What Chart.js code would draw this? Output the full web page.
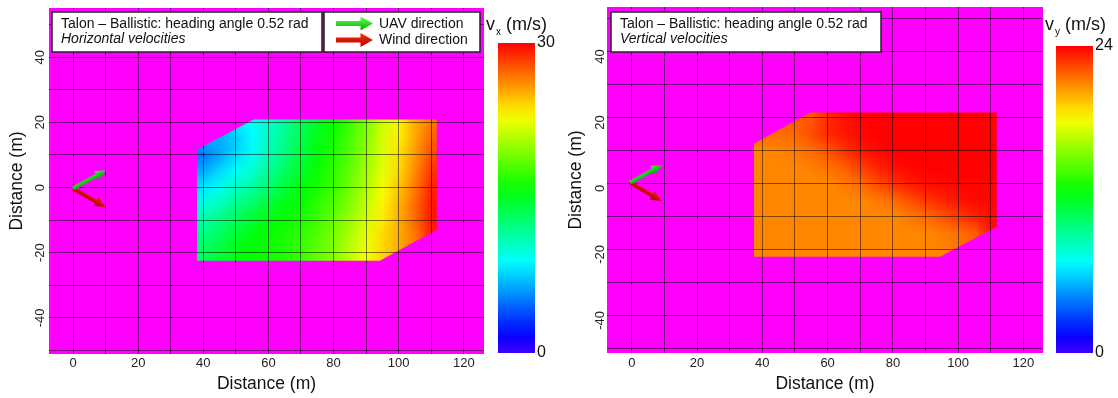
<!DOCTYPE html>
<html>
<head>
<meta charset="utf-8">
<script src="https://cdn.jsdelivr.net/npm/chart.js@4.4.1/dist/chart.umd.min.js"></script>
<style>
  body { margin: 0; background: #fff; width: 1118px; height: 398px; position: relative; overflow: hidden; }
  .panel { position: absolute; top: 0; height: 398px; }
</style>
</head>
<body>
<div class="panel" style="left:0;width:485px"><canvas id="vxChart"></canvas></div>
<div class="panel" style="left:485px;width:74px"><canvas id="vxBar"></canvas></div>
<div class="panel" style="left:559px;width:486px"><canvas id="vyChart"></canvas></div>
<div class="panel" style="left:1045px;width:73px"><canvas id="vyBar"></canvas></div>
<script>
// sample grid (m): columns along x, rows along y from top to bottom
const gridX = [40, 45, 50, 55, 60, 65, 70, 75, 80, 85, 90, 95, 100, 105, 110];
const gridY = [20, 15, 10, 5, 0, -5, -10, -15, -20];

// horizontal velocity vx (m/s), null = outside the region
const vxValues = [
  [null, null, null, 8.8, 10.2, 11.8, 13.3, 14.9, 16.1, 17.6, 19.4, 21.5, 23.2, 25.3, 26.7],
  [null, 6.6, 7.4, 8.8, 10.5, 12.1, 13.8, 15.3, 16.5, 18.0, 19.6, 21.8, 23.5, 25.5, 27.4],
  [5.1, 6.5, 7.9, 9.3, 10.9, 12.6, 14.2, 15.6, 16.8, 18.2, 20.0, 22.0, 23.9, 25.9, 27.9],
  [6.5, 7.9, 9.1, 10.2, 11.8, 13.3, 14.9, 16.1, 17.3, 18.7, 20.4, 22.2, 24.1, 26.2, 28.6],
  [8.2, 9.3, 10.5, 11.6, 12.9, 14.4, 15.6, 16.5, 17.6, 19.1, 20.8, 22.7, 24.6, 26.7, 29.1],
  [9.8, 10.9, 12.1, 13.2, 14.4, 15.4, 16.1, 17.1, 18.2, 19.6, 21.3, 23.2, 25.1, 27.1, 29.4],
  [11.2, 12.4, 13.5, 14.7, 15.6, 16.1, 16.7, 17.6, 18.8, 20.2, 21.8, 23.5, 25.3, 27.2, 29.3],
  [12.4, 13.5, 14.7, 15.6, 16.1, 16.6, 17.3, 18.2, 19.4, 20.8, 22.4, 23.9, 25.3, 26.7, null],
  [13.3, 14.5, 15.4, 15.9, 16.3, 16.8, 17.5, 18.5, 19.6, 21.2, 22.7, 24.1, null, null, null]
];

// vertical velocity vy (m/s)
const vyValues = [
  [null, null, null, 22.1, 23.1, 23.7, 23.9, 24.0, 24.0, 24.0, 24.0, 24.0, 24.0, 24.0, 23.9],
  [null, 21.6, 21.7, 22.3, 23.1, 23.5, 23.8, 24.0, 24.0, 24.0, 24.0, 24.0, 24.0, 24.0, 23.9],
  [21.0, 21.1, 21.3, 21.6, 22.1, 22.9, 23.4, 23.8, 24.0, 24.0, 24.0, 24.0, 24.0, 24.0, 24.0],
  [21.0, 21.0, 21.0, 21.2, 21.5, 21.9, 22.6, 23.2, 23.7, 23.9, 24.0, 24.0, 24.0, 24.0, 24.0],
  [21.0, 21.0, 21.0, 21.0, 21.0, 21.3, 21.6, 22.3, 22.9, 23.4, 23.7, 23.8, 23.9, 23.9, 23.9],
  [21.0, 21.0, 21.0, 21.0, 21.0, 21.0, 21.0, 21.3, 21.6, 22.2, 22.8, 23.2, 23.6, 23.8, 23.9],
  [21.0, 21.0, 21.0, 21.0, 21.0, 21.0, 21.0, 21.0, 21.0, 21.3, 21.6, 22.1, 22.7, 23.2, 23.7],
  [21.0, 21.0, 21.0, 21.0, 21.0, 21.0, 21.0, 21.0, 21.0, 21.0, 21.0, 21.2, 21.5, 21.9, null],
  [21.0, 21.0, 21.0, 21.0, 21.0, 21.0, 21.0, 21.0, 21.0, 21.0, 21.0, 21.1, null, null, null]
];

// region outlines (m)
const vxOutline = [[38.1, 11.7], [55.5, 20.9], [111.7, 20.9], [111.7, -13.0], [94.2, -22.5], [38.1, -22.5]];
const vyOutline = [[37.1, 11.9], [54.7, 21.5], [111.8, 21.5], [111.8, -13.1], [94.5, -22.2], [37.1, -22.2]];

const vxRange = [0, 30];
const vyRange = [0, 24];

const xTickLabels = [0, 20, 40, 60, 80, 100, 120];
const yTickLabels = [-40, -20, 0, 20, 40];

// direction arrows (m)
const arrowOriginVx = [0, -0.3];
const uavTipVx = [10.2, 5.3];
const windTipVx = [10.0, -6.0];
const arrowOriginVy = [-0.5, 0.3];
const uavTipVy = [9.4, 5.6];
const windTipVy = [9.1, -5.3];

const panelTitle = 'Talon – Ballistic: heading angle 0.52 rad';

const FONT = '"Liberation Sans", Arial, sans-serif';
const GRID = 'rgba(0, 0, 0, 0.5)';
Chart.defaults.font.family = FONT;

function hueColor(v, vmax) {
    const t = Math.min(Math.max(v / vmax, 0), 1);
    return `hsl(${(1 - t) * 255}, 100%, 50%)`;
}

function nearestValue(values, i, j) {
    let best = null, bestD = Infinity;
    values.forEach((row, jj) => row.forEach((v, ii) => {
        if (v === null) return;
        const d = (ii - i) * (ii - i) + (jj - j) * (jj - j);
        if (d < bestD) { bestD = d; best = v; }
    }));
    return best;
}

function buildHeatImage(values, vmax) {
    const c = document.createElement('canvas');
    c.width = values[0].length;
    c.height = values.length;
    const g = c.getContext('2d');
    values.forEach((row, j) => row.forEach((v, i) => {
        const val = v !== null ? v : nearestValue(values, i, j);
        g.fillStyle = hueColor(val, vmax);
        g.fillRect(i, j, 1, 1);
    }));
    return c;
}

function drawArrow(ctx, x0, y0, x1, y1, light, dark, shaft, headLen, headW) {
    const ang = Math.atan2(y1 - y0, x1 - x0);
    const len = Math.hypot(x1 - x0, y1 - y0);
    ctx.save();
    ctx.translate(x0, y0);
    ctx.rotate(ang);
    const g = ctx.createLinearGradient(0, -headW / 2, 0, headW / 2);
    g.addColorStop(0, light);
    g.addColorStop(1, dark);
    ctx.fillStyle = g;
    ctx.beginPath();
    ctx.moveTo(0, -shaft / 2);
    ctx.lineTo(len - headLen, -shaft / 2);
    ctx.lineTo(len - headLen, -headW / 2);
    ctx.lineTo(len, 0);
    ctx.lineTo(len - headLen, headW / 2);
    ctx.lineTo(len - headLen, shaft / 2);
    ctx.lineTo(0, shaft / 2);
    ctx.closePath();
    ctx.fill();
    ctx.restore();
}

function drawBox(ctx, x, y, w, h) {
    ctx.fillStyle = '#fff';
    ctx.fillRect(x, y, w, h);
    ctx.strokeStyle = '#222';
    ctx.lineWidth = 1.5;
    ctx.strokeRect(x, y, w, h);
}

// magenta background + smoothly shaded field, clipped to the outline
function heatPlugin(cfg) {
    const image = buildHeatImage(cfg.values, cfg.range[1]);
    return {
        id: 'heat',
        beforeDatasetsDraw(chart) {
            const {ctx, chartArea: a, scales: {x, y}} = chart;
            ctx.save();
            ctx.fillStyle = '#ff00ff';
            ctx.fillRect(a.left, a.top, a.width, a.height);
            ctx.beginPath();
            cfg.outline.forEach(([vx, vy], i) => {
                const px = x.getPixelForValue(vx), py = y.getPixelForValue(vy);
                if (i) ctx.lineTo(px, py); else ctx.moveTo(px, py);
            });
            ctx.closePath();
            ctx.clip();
            const half = (gridX[1] - gridX[0]) / 2;
            const left = x.getPixelForValue(gridX[0] - half);
            const right = x.getPixelForValue(gridX[gridX.length - 1] + half);
            const top = y.getPixelForValue(gridY[0] + half);
            const bottom = y.getPixelForValue(gridY[gridY.length - 1] - half);
            ctx.imageSmoothingEnabled = true;
            ctx.drawImage(image, left, top, right - left, bottom - top);
            ctx.restore();
        }
    };
}

// arrows and the text boxes on top
function overlayPlugin(cfg) {
    return {
        id: 'overlay',
        afterDraw(chart) {
            const {ctx, scales: {x, y}} = chart;
            const o = [x.getPixelForValue(cfg.origin[0]), y.getPixelForValue(cfg.origin[1])];
            drawArrow(ctx, o[0], o[1], x.getPixelForValue(cfg.windTip[0]), y.getPixelForValue(cfg.windTip[1]),
                '#f02000', '#a00000', 4, 11, 10);
            drawArrow(ctx, o[0], o[1], x.getPixelForValue(cfg.uavTip[0]), y.getPixelForValue(cfg.uavTip[1]),
                '#44ee44', '#00a000', 4, 11, 10);

            ctx.save();
            drawBox(ctx, 52, 12, 270, 40);
            ctx.fillStyle = '#111';
            ctx.textBaseline = 'middle';
            ctx.font = `14px ${FONT}`;
            ctx.fillText(panelTitle, 61, 24.5);
            ctx.font = `italic 14px ${FONT}`;
            ctx.fillText(cfg.subtitle, 61, 39.5);

            if (cfg.directionKey) {
                drawBox(ctx, 324, 12, 156, 40);
                drawArrow(ctx, 336, 23.5, 373, 23.5, '#66ff55', '#00b000', 5, 12.5, 14);
                drawArrow(ctx, 336, 40, 373, 40, '#ff3000', '#b00000', 5, 12.5, 14);
                ctx.fillStyle = '#111';
                ctx.font = `14px ${FONT}`;
                ctx.fillText('UAV direction', 379, 24);
                ctx.fillText('Wind direction', 379, 40);
            }
            ctx.restore();
        }
    };
}

function makeHeatChart(id, cfg) {
    const label = list => v => list.includes(v) ? String(v) : '';
    return new Chart(document.getElementById(id), {
        type: 'scatter',
        data: { datasets: [] },
        options: {
            responsive: true,
            maintainAspectRatio: false,
            animation: false,
            layout: { padding: { top: cfg.top, right: cfg.right, left: 0, bottom: 0 } },
            plugins: { legend: { display: false }, tooltip: { enabled: false } },
            scales: {
                x: {
                    type: 'linear',
                    min: cfg.xMin,
                    max: cfg.xMax,
                    grid: { color: GRID, lineWidth: 1, drawTicks: false, z: 1 },
                    border: { display: false },
                    ticks: {
                        stepSize: 10, includeBounds: false, autoSkip: false, maxRotation: 0,
                        padding: cfg.xPad, color: '#222', font: { size: 13 },
                        callback: label(xTickLabels)
                    },
                    title: {
                        display: true, text: 'Distance (m)', color: '#111',
                        font: { size: 17.5 }, padding: { top: 0, bottom: 3.5 }
                    },
                    afterFit: s => { s.height = cfg.xAxisH; }
                },
                y: {
                    type: 'linear',
                    min: cfg.yMin,
                    max: cfg.yMax,
                    grid: { color: GRID, lineWidth: 1, drawTicks: false, z: 1 },
                    border: { display: false },
                    ticks: {
                        stepSize: 10, includeBounds: false, autoSkip: false,
                        minRotation: 90, maxRotation: 90, crossAlign: 'center',
                        padding: cfg.yPad, labelOffset: cfg.yLabelOffset,
                        color: '#222', font: { size: 13 },
                        callback: label(yTickLabels)
                    },
                    title: {
                        display: true, text: 'Distance (m)', color: '#111',
                        font: { size: 17.5 }, padding: { top: 7, bottom: 0 }
                    },
                    afterFit: s => { s.width = cfg.yAxisW; }
                }
            }
        },
        plugins: [heatPlugin(cfg), overlayPlugin(cfg)]
    });
}

function makeColorBar(id, cfg) {
    const vmax = cfg.range[1];
    return new Chart(document.getElementById(id), {
        type: 'bar',
        data: {
            labels: [''],
            datasets: [{
                data: [vmax],
                barPercentage: 1,
                categoryPercentage: 1,
                borderWidth: 0,
                backgroundColor: (c) => {
                    const a = c.chart.chartArea;
                    if (!a) return '#f00';
                    const g = c.chart.ctx.createLinearGradient(0, a.bottom, 0, a.top);
                    for (let i = 0; i <= 20; i++) g.addColorStop(i / 20, hueColor(i / 20 * vmax, vmax));
                    return g;
                }
            }]
        },
        options: {
            responsive: true,
            maintainAspectRatio: false,
            animation: false,
            layout: { padding: { top: cfg.top, left: cfg.left, right: 0, bottom: 45 } },
            plugins: { legend: { display: false }, tooltip: { enabled: false } },
            scales: {
                x: { display: false },
                y: {
                    position: 'right',
                    min: cfg.range[0],
                    max: vmax,
                    afterBuildTicks: s => { s.ticks = cfg.range.map(v => ({ value: v })); },
                    grid: { display: false, drawTicks: false },
                    border: { display: false },
                    ticks: { padding: 2, color: '#111', font: { size: 16 } },
                    afterFit: s => { s.width = cfg.axisW; }
                }
            }
        },
        plugins: [{
            id: 'barTitle',
            afterDraw(chart) {
                const ctx = chart.ctx;
                ctx.save();
                ctx.fillStyle = '#111';
                ctx.textBaseline = 'alphabetic';
                ctx.font = `18px ${FONT}`;
                let x = cfg.titleX;
                ctx.fillText('v', x, 30);
                x += ctx.measureText('v').width + 1;
                ctx.font = `10px ${FONT}`;
                ctx.fillText(cfg.sub, x, 35);
                x += ctx.measureText(cfg.sub).width + 5;
                ctx.font = `18px ${FONT}`;
                ctx.fillText('(m/s)', x, 30);
                ctx.restore();
            }
        }]
    });
}

makeHeatChart('vxChart', {
    values: vxValues, range: vxRange, outline: vxOutline,
    origin: arrowOriginVx, uavTip: uavTipVx, windTip: windTipVx,
    subtitle: 'Horizontal velocities', directionKey: true,
    xMin: -7.37, xMax: 126.2, yMin: -51.1, yMax: 55.1,
    top: 8, right: 1, xAxisH: 44, yAxisW: 49, xPad: 2, yPad: -1, yLabelOffset: 0
});

makeHeatChart('vyChart', {
    values: vyValues, range: vyRange, outline: vyOutline,
    origin: arrowOriginVy, uavTip: uavTipVy, windTip: windTipVy,
    subtitle: 'Vertical velocities', directionKey: false,
    xMin: -7.6, xMax: 126.0, yMin: -51.4, yMax: 53.5,
    top: 7, right: 2, xAxisH: 45, yAxisW: 48, xPad: 3, yPad: -3, yLabelOffset: 5
});

makeColorBar('vxBar', { range: vxRange, top: 43, left: 13, axisW: 24, titleX: 1, sub: 'x' });
makeColorBar('vyBar', { range: vyRange, top: 46, left: 11, axisW: 25, titleX: 0, sub: 'y' });
</script>
</body>
</html>
